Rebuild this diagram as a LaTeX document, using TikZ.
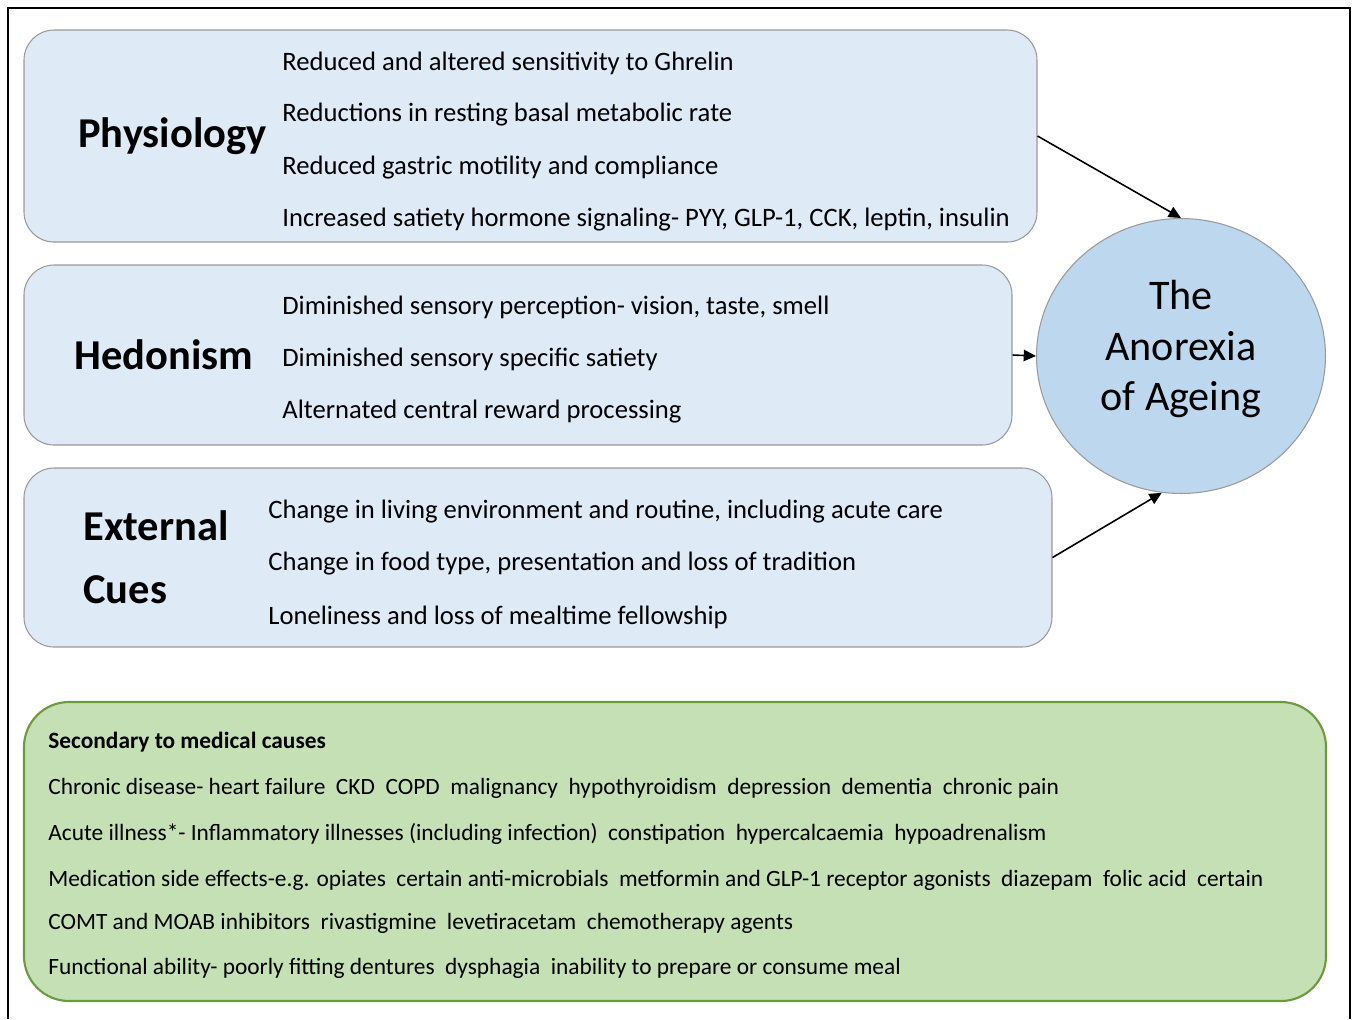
\documentclass[tikz,border=0pt]{standalone}
\usepackage{fontspec}
\setmainfont{Carlito}
\usetikzlibrary{arrows.meta,positioning,fit,shapes.geometric}

\definecolor{boxblue}{HTML}{DEEAF6}
\definecolor{circblue}{HTML}{BDD7EE}
\definecolor{boxgreen}{HTML}{C5E0B4}
\definecolor{edgegreen}{HTML}{6B9A3F}
\definecolor{edgegray}{HTML}{9A9A9A}

\begin{document}
\begin{tikzpicture}[>={Triangle[length=7pt,width=6.5pt]},x=0.02cm,y=-0.02cm,
    bluebox/.style={draw=edgegray,fill=boxblue,line width=0.6pt,rounded corners=0.6cm,inner sep=0},
    item/.style={anchor=west,inner sep=0,font=\fontsize{15.15}{18}\selectfont},
    heading/.style={anchor=west,inner sep=0,font=\fontsize{24.2}{28}\selectfont\bfseries},
    meditem/.style={anchor=west,inner sep=0,font=\fontsize{13.3}{16}\selectfont}]

    \useasboundingbox (0,0) rectangle (1357,1019);

    % Outer frame
    \draw [line width=1.3pt] (8,1019) -- (8,8) -- (1350,8) -- (1350,1019);

    % Physiology box
    \node [bluebox,fit={(24,30) (1037,242)}] (phys) {};
    \node [heading] (physhead) at (78,136) {Physiology};
    \node [item] (phys1) at (282,63) {Reduced and altered sensitivity to Ghrelin};
    \node [item] (phys2) at (282,115) {Reductions in resting basal metabolic rate};
    \node [item] (phys3) at (282,168) {Reduced gastric motility and compliance};
    \node [item] (phys4) at (282,220) {Increased satiety hormone signaling- PYY, GLP-1, CCK, leptin, insulin};

    % Hedonism box
    \node [bluebox,fit={(24,265) (1012,445)}] (hedon) {};
    \node [heading] (hedonhead) at (74,355) {Hedonism};
    \node [item] (hedon1) at (282,307) {Diminished sensory perception- vision, taste, smell};
    \node [item] (hedon2) at (282,359) {Diminished sensory specific satiety};
    \node [item] (hedon3) at (282,412) {Alternated central reward processing};

    % External cues box
    \node [bluebox,fit={(24,468) (1052,647)}] (ext) {};
    \node [heading] (exthead) at (83,526) {External};
    \node [heading] (exthead2) at (83,590) {Cues};
    \node [item] (ext1) at (268,512) {Change in living environment and routine, including acute care};
    \node [item] (ext2) at (268,564) {Change in food type, presentation and loss of tradition};
    \node [item] (ext3) at (268,617) {Loneliness and loss of mealtime fellowship};

    % The anorexia of ageing
    \node [ellipse,draw=edgegray,fill=circblue,line width=0.6pt,minimum width=5.78cm,minimum height=5.5cm] (anorexia) at (1181,356) {};
    \node [align=center,inner sep=0,font=\fontsize{24}{28.5}\selectfont] (anorexiatext) at (1181,349) {The\\Anorexia\\of Ageing};

    % Arrows into the circle
    \draw [->,line width=0.9pt] (phys.east) -- (anorexia.north);
    \draw [->,line width=0.9pt] (hedon.east) -- (anorexia.west);
    \draw [->,line width=0.9pt] (ext.east) -- (anorexia.262);

    % Secondary to medical causes
    \node [draw=edgegreen,fill=boxgreen,line width=1.2pt,rounded corners=0.9cm,inner sep=0,
        fit={(24,702) (1326,1001)}] (medical) {};
    \node [meditem,font=\fontsize{13.3}{16}\selectfont\bfseries] (medhead) at (48,742) {Secondary to medical causes};
    \node [meditem] (med1) at (48,788) {Chronic disease- heart failure\ \ CKD\ \ COPD\ \ malignancy\ \ hypothyroidism\ \ depression\ \ dementia\ \ chronic pain};
    \node [meditem] (med2) at (48,834) {Acute illness*- Inflammatory illnesses (including infection)\ \ constipation\ \ hypercalcaemia\ \ hypoadrenalism};
    \node [meditem] (med3) at (48,880) {Medication side effects-e.g. opiates\ \ certain anti-microbials\ \ metformin and GLP-1 receptor agonists\ \ diazepam\ \ folic acid\ \ certain};
    \node [meditem] (med4) at (48,923) {COMT and MOAB inhibitors\ \ rivastigmine\ \ levetiracetam\ \ chemotherapy agents};
    \node [meditem] (med5) at (48,968) {Functional ability- poorly fitting dentures\ \ dysphagia\ \ inability to prepare or consume meal};

\end{tikzpicture}
\end{document}
